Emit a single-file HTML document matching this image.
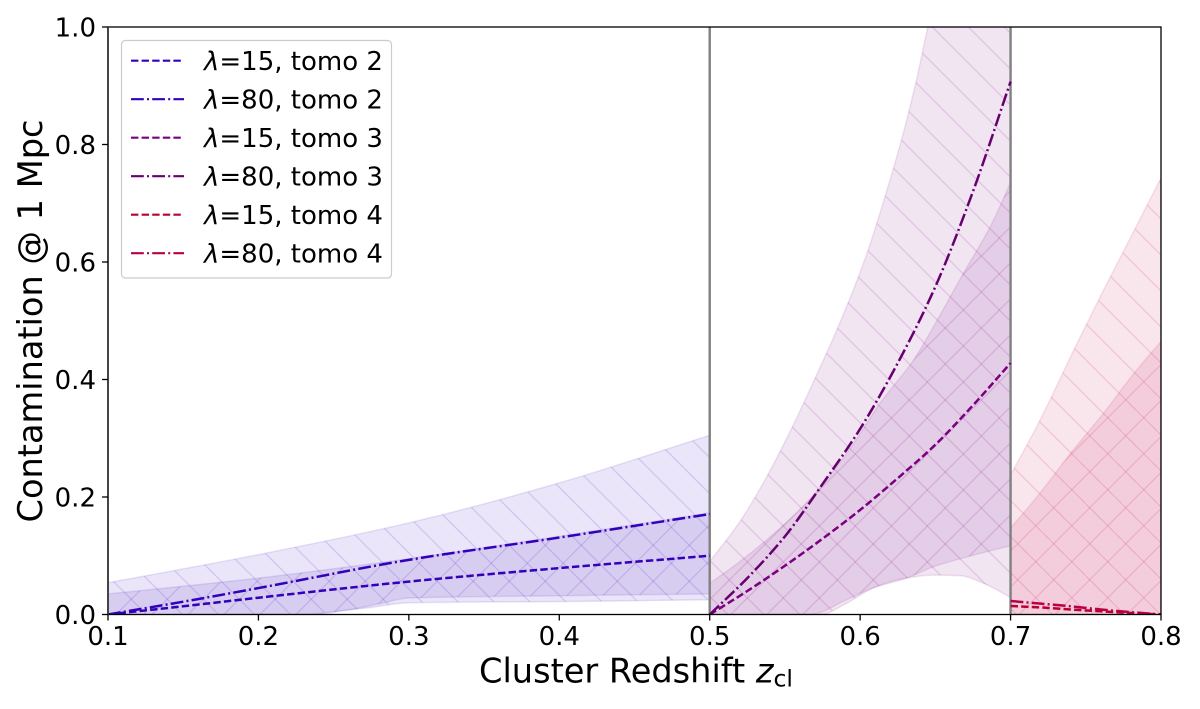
<!DOCTYPE html>
<html lang="en">
<head>
<meta charset="utf-8">
<title>Contamination at 1 Mpc vs cluster redshift</title>
<style>
html,body{margin:0;padding:0;background:#fff;width:1200px;height:709px;overflow:hidden}
svg{display:block;font-family:"DejaVu Sans","Liberation Sans",sans-serif}
</style>
</head>
<body>
<svg id="chart" width="1200" height="709" viewBox="0 0 1200 709" xmlns="http://www.w3.org/2000/svg">
  <defs>
    <clipPath id="axes-clip"><rect x="108" y="27" width="1053" height="587.5"/></clipPath>
  </defs>
  <rect x="0" y="0" width="1200" height="709" fill="#fff"/>
  <g id="bands" clip-path="url(#axes-clip)"></g>
  <g id="dividers"></g>
  <g id="lines" clip-path="url(#axes-clip)"></g>
  <g id="axes"></g>
  <text x="636" y="682.5" font-size="33.6" text-anchor="middle" fill="#000">Cluster Redshift <tspan font-style="italic">z</tspan><tspan font-size="23.5" dy="4">cl</tspan></text>
  <text transform="translate(42,321) rotate(-90)" font-size="33.6" text-anchor="middle" fill="#000">Contamination @ 1 Mpc</text>
  <g id="legend">
    <rect x="121.5" y="40.5" width="270" height="237.5" rx="4" fill="#fff" fill-opacity="0.8" stroke="#ccc" stroke-width="1.2"/>
    <g id="legend-keys"></g>
    <g font-size="26" fill="#000">
      <text x="204" y="70"><tspan font-style="italic">λ</tspan>=15, tomo 2</text>
      <text x="204" y="108.5"><tspan font-style="italic">λ</tspan>=80, tomo 2</text>
      <text x="204" y="147"><tspan font-style="italic">λ</tspan>=15, tomo 3</text>
      <text x="204" y="185.5"><tspan font-style="italic">λ</tspan>=80, tomo 3</text>
      <text x="204" y="224"><tspan font-style="italic">λ</tspan>=15, tomo 4</text>
      <text x="204" y="262.5"><tspan font-style="italic">λ</tspan>=80, tomo 4</text>
    </g>
  </g>
</svg>
<script>
// Tick labels
const xTicks = ['0.1','0.2','0.3','0.4','0.5','0.6','0.7','0.8'];
const yTicks = ['0.0','0.2','0.4','0.6','0.8','1.0'];
const dividerRedshifts = [0.5, 0.7];

// Tomo 2 lines
const t2LineZ = [0.1, 0.15, 0.2, 0.3, 0.4, 0.5];
const t2L15 = [0, 0.014, 0.0286, 0.056, 0.079, 0.1];
const t2L80 = [0, 0.0218, 0.045, 0.093, 0.131, 0.171];
// Tomo 2 bands
const t2WideZ = [0.1, 0.2, 0.3, 0.4, 0.5];
const t2WideUpper = [0.054, 0.102, 0.156, 0.224, 0.305];
const t2WideLowerZ = [0.1, 0.23, 0.25, 0.272, 0.3, 0.4, 0.5];
const t2WideLower = [0, 0, 0.005, 0.011, 0.02, 0.022, 0.025];
const t2NarrowZ = [0.1, 0.2, 0.3, 0.4, 0.5];
const t2NarrowUpper = [0.035, 0.062, 0.095, 0.133, 0.173];
const t2NarrowLowerZ = [0.1, 0.235, 0.26, 0.28, 0.3, 0.4, 0.5];
const t2NarrowLower = [0, 0, 0.008, 0.018, 0.028, 0.032, 0.035];

// Tomo 3 lines
const t3LineZ = [0.5, 0.525, 0.55, 0.575, 0.6, 0.625, 0.65, 0.675, 0.7];
const t3L15 = [0, 0.04, 0.083, 0.129, 0.178, 0.232, 0.289, 0.356, 0.428];
const t3L80 = [0, 0.062, 0.133, 0.222, 0.316, 0.428, 0.558, 0.72, 0.907];
// Tomo 3 bands
const t3WideZ = [0.5, 0.52, 0.538, 0.5545, 0.57, 0.585, 0.6035, 0.616, 0.6275, 0.637, 0.645, 0.7];
const t3WideUpper = [0.09, 0.158, 0.235, 0.317, 0.402, 0.4875, 0.607, 0.707, 0.808, 0.905, 1.0, 1.6];
const t3WideLowerZ = [0.5, 0.5735, 0.591, 0.6085, 0.6265, 0.6485, 0.6665, 0.682, 0.7];
const t3WideLower = [0, 0, 0.019, 0.045, 0.06, 0.067, 0.066, 0.053, 0.029];
const t3NarrowZ = [0.5, 0.52, 0.5467, 0.57, 0.5934, 0.6133, 0.6355, 0.651, 0.6687, 0.6865, 0.7];
const t3NarrowUpper = [0.053, 0.09, 0.147, 0.206, 0.283, 0.36, 0.433, 0.5, 0.581, 0.66, 0.735];
const t3NarrowLowerZ = [0.5, 0.5667, 0.591, 0.6085, 0.631, 0.6485, 0.671, 0.7];
const t3NarrowLower = [0, 0, 0.025, 0.045, 0.062, 0.081, 0.098, 0.117];

// Tomo 4 lines
const t4LineZ = [0.7, 0.72, 0.74, 0.76, 0.78, 0.8];
const t4L15 = [0.0145, 0.012, 0.0085, 0.0055, 0.0025, 0];
const t4L80 = [0.023, 0.0185, 0.014, 0.0085, 0.004, 0];
// Tomo 4 bands
const t4WideZ = [0.7, 0.7186, 0.7426, 0.7592, 0.775, 0.8];
const t4WideUpper = [0.2376, 0.326, 0.453, 0.539, 0.618, 0.743];
const t4WideLowerZ = [0.7, 0.8];
const t4WideLower = [0, 0];
const t4NarrowZ = [0.7, 0.7186, 0.74, 0.7618, 0.783, 0.8];
const t4NarrowUpper = [0.147, 0.2035, 0.2746, 0.3427, 0.4136, 0.4647];
const t4NarrowLowerZ = [0.7, 0.8];
const t4NarrowLower = [0, 0];

const SVGNS = 'http://www.w3.org/2000/svg';
const xScale = z => 108 + (z - 0.1) / 0.7 * 1053;
const yScale = v => 614.5 - v * 587.5;
const DASHED = '7.4 3.2';
const DASHDOT = '12.8 3.2 2 3.2';

function make(tag, attrs, parent) {
  const el = document.createElementNS(SVGNS, tag);
  for (const k in attrs) el.setAttribute(k, attrs[k]);
  parent.appendChild(el);
  return el;
}
// Monotone cubic path through the data points; "lead" starts the string (M or L).
function curve(zs, vs, lead) {
  const x = zs.map(xScale), y = vs.map(yScale), n = x.length;
  const d = [];
  for (let i = 0; i < n - 1; i++) d.push((y[i + 1] - y[i]) / (x[i + 1] - x[i]));
  const m = [d[0]];
  for (let i = 1; i < n - 1; i++) {
    m.push(d[i - 1] * d[i] <= 0 ? 0 : 2 * d[i - 1] * d[i] / (d[i - 1] + d[i]));
  }
  m.push(d[n - 2]);
  let s = lead + x[0].toFixed(2) + ',' + y[0].toFixed(2);
  for (let i = 0; i < n - 1; i++) {
    const h = (x[i + 1] - x[i]) / 3;
    s += 'C' + (x[i] + h).toFixed(2) + ',' + (y[i] + m[i] * h).toFixed(2) + ' ' +
         (x[i + 1] - h).toFixed(2) + ',' + (y[i + 1] - m[i + 1] * h).toFixed(2) + ' ' +
         x[i + 1].toFixed(2) + ',' + y[i + 1].toFixed(2);
  }
  return s;
}
function bandPath(zu, vu, zl, vl) {
  const rz = zl.slice().reverse(), rv = vl.slice().reverse();
  return curve(zu, vu, 'M') + curve(rz, rv, 'L') + 'Z';
}

const defs = document.querySelector('#chart defs');
function hatchPattern(id, color, back, phase) {
  const p = make('pattern', {id: id, patternUnits: 'userSpaceOnUse', width: 36, height: 36}, defs);
  const c = phase;
  const d = back
    ? 'M' + c + ',0L' + (c + 36) + ',36M' + (c - 36) + ',0L' + c + ',36'
    : 'M' + c + ',0L' + (c - 36) + ',36M' + (c + 36) + ',0L' + c + ',36';
  make('path', {d: d, stroke: color, 'stroke-opacity': 0.14, 'stroke-width': 1.3, fill: 'none'}, p);
}

const bandsGroup = document.getElementById('bands');
function drawBand(name, id, color, back, phase, zu, vu, zl, vl) {
  hatchPattern(id, color, back, phase);
  const d = bandPath(zu, vu, zl, vl);
  const fill = make('path', {d: d, fill: color, 'fill-opacity': 0.1, stroke: color, 'stroke-opacity': 0.1, 'stroke-width': 1.5}, bandsGroup);
  
  
  const hatch = make('path', {d: d, fill: 'url(#' + id + ')'}, bandsGroup);
  
  
}
const C2 = '#3300bb', C3 = '#7a0080', C4 = '#c00040';
const C2L = '#3300bb', C3L = '#7a0080', C4L = '#bb0033', C3D = '#66006e', C4D = '#b80048';

drawBand('band-tomo2-wide', 'h2a', C2, true, 0, t2WideZ, t2WideUpper, t2WideLowerZ, t2WideLower);
drawBand('band-tomo2-narrow', 'h2b', C2, false, 10.5, t2NarrowZ, t2NarrowUpper, t2NarrowLowerZ, t2NarrowLower);
drawBand('band-tomo3-wide', 'h3a', C3, true, 5.3, t3WideZ, t3WideUpper, t3WideLowerZ, t3WideLower);
drawBand('band-tomo3-narrow', 'h3b', C3, false, 13.3, t3NarrowZ, t3NarrowUpper, t3NarrowLowerZ, t3NarrowLower);
drawBand('band-tomo4-wide', 'h4a', C4, true, 6, t4WideZ, t4WideUpper, t4WideLowerZ, t4WideLower);
drawBand('band-tomo4-narrow', 'h4b', C4, false, 13.5, t4NarrowZ, t4NarrowUpper, t4NarrowLowerZ, t4NarrowLower);

const dividersGroup = document.getElementById('dividers');
dividerRedshifts.forEach(z => {
  const l = make('line', {x1: xScale(z), x2: xScale(z), y1: 27, y2: 614.5, stroke: '#808080', 'stroke-width': 2.4}, dividersGroup);
  
  
});

const linesGroup = document.getElementById('lines');
function drawLine(name, color, dash, zs, vs) {
  const l = make('path', {d: curve(zs, vs, 'M'), fill: 'none', stroke: color, 'stroke-width': 2.5, 'stroke-dasharray': dash}, linesGroup);
  
  
}
drawLine('line-l15-tomo2', C2L, DASHED, t2LineZ, t2L15);
drawLine('line-l80-tomo2', C2L, DASHDOT, t2LineZ, t2L80);
drawLine('line-l15-tomo3', C3L, DASHED, t3LineZ, t3L15);
drawLine('line-l80-tomo3', C3D, DASHDOT, t3LineZ, t3L80);
drawLine('line-l15-tomo4', C4L, DASHED, t4LineZ, t4L15);
drawLine('line-l80-tomo4', C4D, DASHDOT, t4LineZ, t4L80);

const axesGroup = document.getElementById('axes');
const frame = make('rect', {x: 108, y: 27, width: 1053, height: 587.5, fill: 'none', stroke: '#000', 'stroke-width': 1.3}, axesGroup);


const leftSpine = make('line', {x1: 108, x2: 108, y1: 27, y2: 614.5, stroke: '#444', 'stroke-width': 2}, axesGroup);



xTicks.forEach(t => {
  const x = xScale(parseFloat(t));
  const m = make('line', {x1: x, x2: x, y1: 614.5, y2: 620.5, stroke: '#000', 'stroke-width': 1.3}, axesGroup);
  
  
  const l = make('text', {x: x, y: 645, 'font-size': 26, 'text-anchor': 'middle', fill: '#000'}, axesGroup);
  
  
  l.textContent = t;
});
yTicks.forEach(t => {
  const y = yScale(parseFloat(t));
  const m = make('line', {x1: 102, x2: 108, y1: y, y2: y, stroke: '#000', 'stroke-width': 1.3}, axesGroup);
  
  
  const l = make('text', {x: 96, y: y + 9.5, 'font-size': 26, 'text-anchor': 'end', fill: '#000'}, axesGroup);
  
  
  l.textContent = t;
});

const keys = document.getElementById('legend-keys');
const keyColors = [C2L, C2L, C3L, C3D, C4L, C4D];
const keyDashes = [DASHED, DASHDOT, DASHED, DASHDOT, DASHED, DASHDOT];
keyColors.forEach((c, i) => {
  const y = 60.7 + i * 38.5;
  const k = make('line', {x1: 131, x2: 184, y1: y, y2: y, stroke: c, 'stroke-width': 2.2, 'stroke-dasharray': keyDashes[i]}, keys);
  
  
});
</script>
</body>
</html>
